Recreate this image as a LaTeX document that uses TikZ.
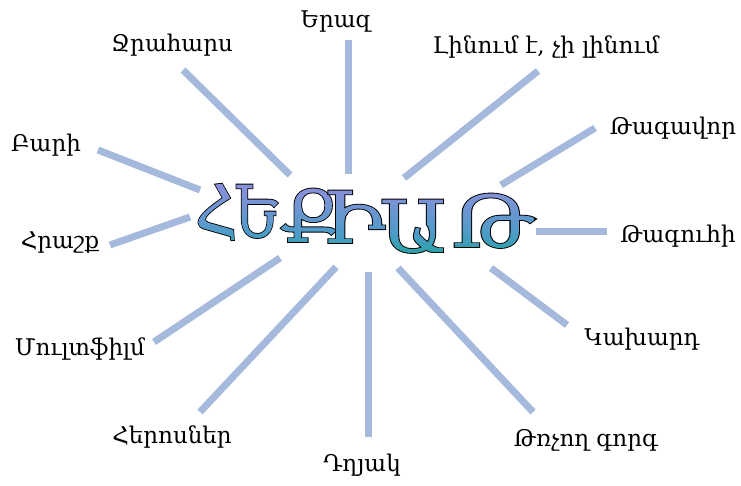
\documentclass[tikz,border=0pt]{standalone}
\usepackage{fontspec}
\setmainfont{DejaVu Serif}
\definecolor{linec}{HTML}{A4B9DC}
\definecolor{gtop}{HTML}{8E8EDD}
\definecolor{gup}{HTML}{8391D8}
\definecolor{gmid}{HTML}{4A9CC6}
\definecolor{gbot}{HTML}{1FA39C}
\pgfdeclareverticalshading{wsh}{400pt}{color(0pt)=(gbot); color(10pt)=(gbot); color(33pt)=(gmid); color(75pt)=(gup); color(92pt)=(gtop)}
% #1 glyph, #2 baseline y (px) -> shading bottom at y=268
\newcommand{\gl}[2]{\special{pdf:code q}\special{pdf:code 6 Tr 1.8 w}\textcolor{black}{#1}\special{pdf:code 0 Tr}\llap{\raisebox{\dimexpr #2pt-268pt\relax}[0pt][0pt]{\pgfuseshading{wsh}}}\special{pdf:code Q}}
\begin{document}
\begin{tikzpicture}[x=1pt,y=-1pt,
  conn/.style={draw=linec, line width=7pt},
  lbl/.style={font=\fontsize{23}{24}\selectfont, inner sep=0pt},
  big/.style={font=\fontsize{72}{72}\selectfont, inner sep=0pt, anchor=base}]
\useasboundingbox[fill=white] (0,0) rectangle (741,486);
% connector ends
\coordinate (e1) at (348,40);   \coordinate (f1) at (348,174);
\coordinate (e2) at (183,70);   \coordinate (f2) at (290,175);
\coordinate (e3) at (98,150);   \coordinate (f3) at (200,190);
\coordinate (e4) at (538,71);   \coordinate (f4) at (404,178);
\coordinate (e5) at (595,128);  \coordinate (f5) at (501,185);
\coordinate (e6) at (607,232);  \coordinate (f6) at (536,232);
\coordinate (e7) at (110,245);  \coordinate (f7) at (190,217);
\coordinate (e8) at (154,342);  \coordinate (f8) at (280,258);
\coordinate (e9) at (200,412);  \coordinate (f9) at (336,267);
\coordinate (e10) at (368,437); \coordinate (f10) at (368,272);
\coordinate (e11) at (533,412); \coordinate (f11) at (398,268);
\coordinate (e12) at (567,325); \coordinate (f12) at (491,268);
\foreach \i in {1,...,12} \draw[conn] (e\i) -- (f\i);
% labels
\node[lbl] (eraz) at (336,22) {Երազ};
\node[lbl] (jrahars) at (172,45) {Ջրահարս};
\node[lbl] (bari) at (46,145) {Բարի};
\node[lbl] (linum) at (546,47) {Լինում է, չի լինում};
\node[lbl] (tagavor) at (673,128) {Թագավոր};
\node[lbl] (taguhi) at (678,236) {Թագուհի};
\node[lbl] (hrashq) at (60,243) {Հրաշք};
\node[lbl] (mult) at (80,349) {Մուլտֆիլմ};
\node[lbl] (heros) at (172,437) {Հերոսներ};
\node[lbl] (dghyak) at (362,465) {Դղյակ};
\node[lbl] (trchogh) at (586,440) {Թռչող գորգ};
\node[lbl] (kakhard) at (642,339) {Կախարդ};
% central word
\node[big, xscale=0.8, rotate=5] (L1) at (217,237) {\gl{Հ}{237}};
\node[big, xscale=0.8] (L2) at (257.5,237) {\gl{Ե}{237}};
\node[big, xscale=0.96] (L3) at (310,242) {\gl{Ք}{242}};
\node[big, xscale=1.15] (L4) at (354,243) {\gl{Ի}{243}};
\node[big, xscale=1.15] (L5) at (413,252) {\gl{Ա}{252}};
\node[big, xscale=1.18] (L6) at (493,247) {\gl{Թ}{247}};
\end{tikzpicture}
\end{document}
